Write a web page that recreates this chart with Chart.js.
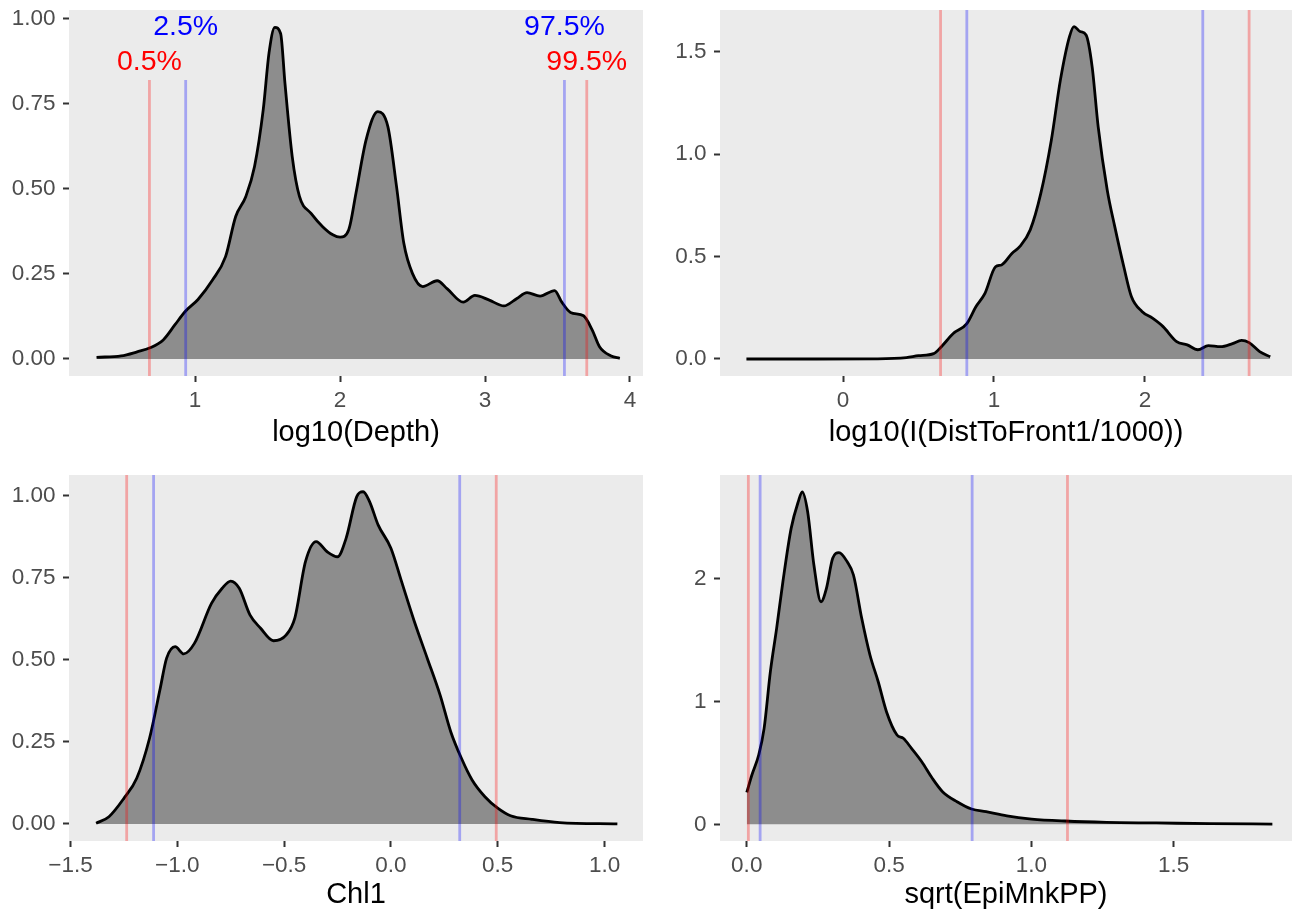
<!DOCTYPE html>
<html>
<head>
<meta charset="utf-8">
<script src="https://cdn.jsdelivr.net/npm/chart.js@4.4.1/dist/chart.umd.min.js"></script>
<style>
  html, body { margin: 0; padding: 0; background: #ffffff; }
  #wrap { position: relative; width: 1297px; height: 915px; overflow: hidden; }
  #wrap canvas { position: absolute; }
</style>
</head>
<body>
<div id="wrap">
  <canvas id="depthChart" width="648" height="457" style="left:0px;top:0px"></canvas>
  <canvas id="frontChart" width="649" height="457" style="left:648px;top:0px"></canvas>
  <canvas id="chlChart" width="648" height="458" style="left:0px;top:457px"></canvas>
  <canvas id="epiChart" width="649" height="458" style="left:648px;top:457px"></canvas>
</div>
<script>
// density estimates
const depthX = [0.32, 0.49, 0.60, 0.69, 0.78, 0.86, 0.93, 1.02, 1.12, 1.21, 1.28, 1.35, 1.41, 1.47, 1.51, 1.55, 1.59, 1.62, 1.67, 1.72, 1.80, 1.88, 1.95, 2.00, 2.06, 2.11, 2.18, 2.26, 2.33, 2.39, 2.44, 2.50, 2.57, 2.67, 2.74, 2.85, 2.93, 3.03, 3.13, 3.22, 3.29, 3.38, 3.48, 3.53, 3.59, 3.68, 3.74, 3.79, 3.87, 3.93];
const depthY = [0.005, 0.009, 0.021, 0.033, 0.056, 0.100, 0.139, 0.175, 0.232, 0.301, 0.419, 0.478, 0.566, 0.733, 0.900, 0.975, 0.957, 0.810, 0.595, 0.478, 0.428, 0.389, 0.365, 0.358, 0.380, 0.488, 0.645, 0.727, 0.683, 0.506, 0.340, 0.251, 0.213, 0.230, 0.206, 0.167, 0.187, 0.173, 0.156, 0.178, 0.195, 0.185, 0.201, 0.167, 0.137, 0.127, 0.085, 0.036, 0.009, 0.002];

const frontX = [-0.64, -0.18, 0.23, 0.42, 0.50, 0.60, 0.65, 0.73, 0.82, 0.88, 0.94, 1.01, 1.05, 1.12, 1.17, 1.24, 1.31, 1.38, 1.44, 1.50, 1.53, 1.57, 1.61, 1.65, 1.69, 1.75, 1.80, 1.86, 1.91, 1.98, 2.05, 2.12, 2.21, 2.28, 2.35, 2.42, 2.50, 2.58, 2.64, 2.69, 2.76, 2.83];
const frontY = [0, 0, 0.001, 0.007, 0.016, 0.026, 0.059, 0.124, 0.173, 0.255, 0.32, 0.45, 0.459, 0.516, 0.548, 0.63, 0.808, 1.069, 1.362, 1.573, 1.622, 1.598, 1.581, 1.427, 1.134, 0.825, 0.646, 0.45, 0.305, 0.232, 0.199, 0.158, 0.085, 0.069, 0.045, 0.065, 0.06, 0.075, 0.091, 0.08, 0.036, 0.011];

const chlX = [-1.38, -1.32, -1.25, -1.19, -1.13, -1.08, -1.05, -1.01, -0.97, -0.92, -0.84, -0.79, -0.75, -0.71, -0.66, -0.61, -0.55, -0.49, -0.45, -0.40, -0.35, -0.30, -0.25, -0.21, -0.16, -0.13, -0.10, -0.06, 0.00, 0.05, 0.11, 0.17, 0.23, 0.28, 0.33, 0.38, 0.44, 0.50, 0.56, 0.66, 0.79, 1.06];
const chlY = [0.002, 0.022, 0.078, 0.139, 0.261, 0.413, 0.505, 0.54, 0.518, 0.55, 0.672, 0.718, 0.74, 0.718, 0.637, 0.596, 0.558, 0.576, 0.627, 0.799, 0.86, 0.83, 0.814, 0.87, 0.997, 1.012, 0.982, 0.911, 0.84, 0.738, 0.616, 0.505, 0.393, 0.281, 0.2, 0.134, 0.083, 0.048, 0.025, 0.014, 0.004, 0.0];

const epiX = [0, 0.018, 0.042, 0.061, 0.083, 0.105, 0.127, 0.156, 0.181, 0.195, 0.214, 0.236, 0.261, 0.28, 0.302, 0.324, 0.353, 0.375, 0.404, 0.433, 0.462, 0.491, 0.528, 0.55, 0.579, 0.615, 0.652, 0.688, 0.739, 0.79, 0.841, 0.914, 1.001, 1.118, 1.264, 1.439, 1.629, 1.847];
const epiY = [0.26, 0.402, 0.565, 0.782, 1.244, 1.597, 1.977, 2.412, 2.63, 2.71, 2.548, 2.113, 1.814, 1.923, 2.168, 2.214, 2.14, 2.032, 1.679, 1.38, 1.162, 0.918, 0.728, 0.701, 0.619, 0.51, 0.375, 0.266, 0.184, 0.125, 0.103, 0.068, 0.043, 0.027, 0.016, 0.011, 0.005, 0.002];

// quantile cut points (0.5%, 2.5%, 97.5%, 99.5%)
const depthCuts = [0.685, 0.935, 3.548, 3.702];
const frontCuts = [0.646, 0.82, 2.383, 2.69];
const chlCuts = [-1.237, -1.111, 0.322, 0.493];
const epiCuts = [0.0056, 0.047, 0.792, 1.127];
const cutLabels = ['0.5%', '2.5%', '97.5%', '99.5%'];
const cutLabelY = [0.874, 0.976, 0.976, 0.874];
const depthCutTop = 0.82;

// tick labels
const depthXTicks = [1, 2, 3, 4];
const depthYTicks = [0, 0.25, 0.5, 0.75, 1];
const frontXTicks = [0, 1, 2];
const frontYTicks = [0, 0.5, 1, 1.5];
const chlXTicks = [-1.5, -1, -0.5, 0, 0.5, 1];
const chlYTicks = [0, 0.25, 0.5, 0.75, 1];
const epiXTicks = [0, 0.5, 1, 1.5];
const epiYTicks = [0, 1, 2];

const FONT = '"Liberation Sans", Arial, Helvetica, sans-serif';
const CUT_COLORS = ['rgba(255,0,0,0.3)', 'rgba(0,0,255,0.3)', 'rgba(0,0,255,0.3)', 'rgba(255,0,0,0.3)'];
const LABEL_COLORS = ['#FF0000', '#0000FF', '#0000FF', '#FF0000'];

function fmt(v, digits) {
  return v.toFixed(digits).replace('-', '\u2212');
}

const panelBackground = {
  id: 'panelBackground',
  beforeDraw(chart) {
    const { ctx, chartArea: a } = chart;
    ctx.save();
    ctx.fillStyle = '#EBEBEB';
    ctx.fillRect(a.left, a.top, a.right - a.left, a.bottom - a.top);
    ctx.restore();
  }
};

function labelPlugin(items) {
  return {
    id: 'quantileLabels',
    afterDatasetsDraw(chart) {
      const { ctx, scales } = chart;
      ctx.save();
      ctx.font = '28.5px ' + FONT;
      ctx.textAlign = 'center';
      ctx.textBaseline = 'middle';
      items.forEach(it => {
        ctx.fillStyle = it.color;
        ctx.fillText(it.text, scales.x.getPixelForValue(it.x), scales.y.getPixelForValue(it.y));
      });
      ctx.restore();
    }
  };
}

// fixed axis boxes so the panel sits exactly where the original one does
function noOverflow(s) {
  s.paddingTop = 0;
  s.paddingBottom = 0;
  s.paddingLeft = 0;
  s.paddingRight = 0;
}

function densityPanel(id, p) {
  const curve = p.xs.map((v, i) => ({ x: v, y: p.ys[i] }));
  const cutSets = p.cuts.map((c, i) => ({
    data: [{ x: c, y: p.yRange[0] }, { x: c, y: p.cutTop }],
    borderColor: CUT_COLORS[i],
    borderWidth: 2.8,
    pointRadius: 0,
    fill: false,
    order: 1
  }));
  const plugins = [panelBackground];
  if (p.labels) plugins.push(labelPlugin(p.labels));

  return new Chart(document.getElementById(id), {
    type: 'line',
    data: {
      datasets: [{
        data: curve,
        borderColor: '#000000',
        borderWidth: 2.8,
        backgroundColor: 'rgba(0,0,0,0.4)',
        fill: 'origin',
        pointRadius: 0,
        cubicInterpolationMode: 'monotone',
        order: 2
      }].concat(cutSets)
    },
    options: {
      responsive: false,
      animation: false,
      events: [],
      layout: { padding: { top: p.padTop, right: 5, left: 0, bottom: 0 } },
      plugins: { legend: { display: false }, tooltip: { enabled: false } },
      scales: {
        x: {
          type: 'linear',
          min: p.xRange[0],
          max: p.xRange[1],
          afterBuildTicks: s => { s.ticks = p.xTicks.map(v => ({ value: v })); },
          afterFit: s => { s.height = p.xAxisH; noOverflow(s); },
          ticks: {
            callback: v => fmt(v, p.xDigits),
            color: '#4D4D4D',
            font: { family: FONT, size: 22.5 },
            padding: 5,
            maxRotation: 0,
            autoSkip: false
          },
          grid: { drawOnChartArea: false, drawTicks: true, tickLength: 6, tickColor: '#333333', tickWidth: 2 },
          border: { display: false },
          title: {
            display: true,
            text: p.title,
            color: '#000000',
            font: { family: FONT, size: 29 },
            padding: { top: 0, bottom: p.titlePad }
          }
        },
        y: {
          type: 'linear',
          min: p.yRange[0],
          max: p.yRange[1],
          afterBuildTicks: s => { s.ticks = p.yTicks.map(v => ({ value: v })); },
          afterFit: s => { s.width = p.yAxisW; noOverflow(s); },
          ticks: {
            callback: v => fmt(v, p.yDigits),
            color: '#4D4D4D',
            font: { family: FONT, size: 22.5 },
            padding: 7.5
          },
          grid: { drawOnChartArea: false, drawTicks: true, tickLength: 6, tickColor: '#333333', tickWidth: 2 },
          border: { display: false }
        }
      }
    },
    plugins: plugins
  });
}

const depthChart = densityPanel('depthChart', {
  xs: depthX, ys: depthY, cuts: depthCuts, cutTop: depthCutTop,
  xRange: [0.13, 4.09], yRange: [-0.05, 1.026],
  xTicks: depthXTicks, yTicks: depthYTicks, xDigits: 0, yDigits: 2,
  title: 'log10(Depth)', padTop: 10, xAxisH: 81, yAxisW: 69, titlePad: 7,
  labels: depthCuts.map((c, i) => ({ x: c, y: cutLabelY[i], text: cutLabels[i], color: LABEL_COLORS[i] }))
});

const frontChart = densityPanel('frontChart', {
  xs: frontX, ys: frontY, cuts: frontCuts, cutTop: 1.703,
  xRange: [-0.815, 2.974], yRange: [-0.083, 1.703],
  xTicks: frontXTicks, yTicks: frontYTicks, xDigits: 0, yDigits: 1,
  title: 'log10(I(DistToFront1/1000))', padTop: 10, xAxisH: 81, yAxisW: 72, titlePad: 7
});

const chlChart = densityPanel('chlChart', {
  xs: chlX, ys: chlY, cuts: chlCuts, cutTop: 1.063,
  xRange: [-1.507, 1.18], yRange: [-0.052, 1.063],
  xTicks: chlXTicks, yTicks: chlYTicks, xDigits: 1, yDigits: 2,
  title: 'Chl1', padTop: 18, xAxisH: 74, yAxisW: 69, titlePad: 3
});

const epiChart = densityPanel('epiChart', {
  xs: epiX, ys: epiY, cuts: epiCuts, cutTop: 2.847,
  xRange: [-0.094, 1.916], yRange: [-0.136, 2.847],
  xTicks: epiXTicks, yTicks: epiYTicks, xDigits: 1, yDigits: 0,
  title: 'sqrt(EpiMnkPP)', padTop: 18, xAxisH: 74, yAxisW: 72, titlePad: 3
});
</script>
</body>
</html>
